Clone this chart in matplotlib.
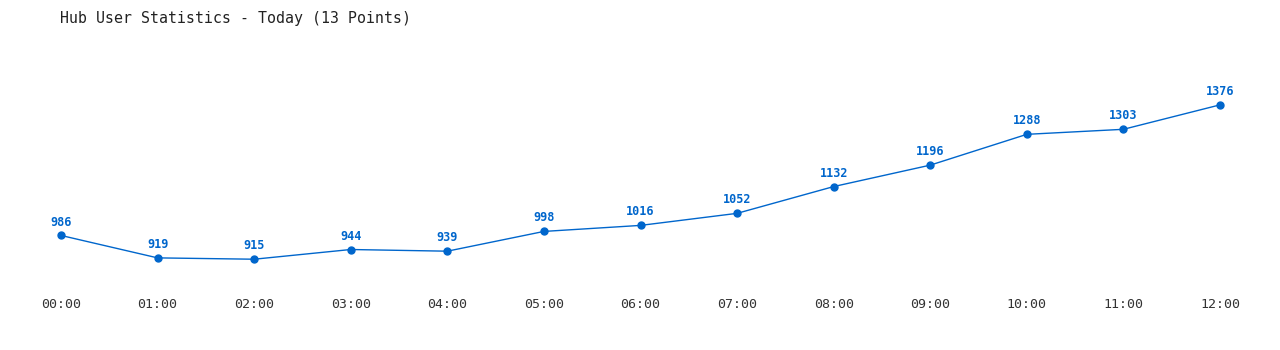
import matplotlib
matplotlib.use('Agg')
import matplotlib.pyplot as plt

# hourly values
hours = ['00:00', '01:00', '02:00', '03:00', '04:00', '05:00', '06:00',
         '07:00', '08:00', '09:00', '10:00', '11:00', '12:00']
users = [986, 919, 915, 944, 939, 998, 1016, 1052, 1132, 1196, 1288, 1303, 1376]

blue = '#0066cc'
W, H = 1280, 350
fig = plt.figure(figsize=(W / 100, H / 100), dpi=100)
# axes placed so that 00:00 sits at px 61 and 12:00 at px 1220
ax = fig.add_axes([61 / W, 1 - 285 / H, (1220 - 61) / W, (285 - 60) / H])
xs = list(range(len(hours)))
ax.plot(xs, users, color=blue, linewidth=1, marker='o', markersize=5, clip_on=False)
for x, v in zip(xs, users):
    ax.annotate(str(v), (x, v), xytext=(0, 5), textcoords='offset points',
                ha='center', va='bottom', color=blue, fontsize=8.5,
                fontweight='bold', family='DejaVu Sans Mono')

ax.set_xlim(0, 12)
ax.set_ylim(838, 1510)
ax.set_xticks(xs)
ax.set_xticklabels(hours, family='DejaVu Sans Mono', fontsize=9.5, color='#333333')
ax.tick_params(axis='x', length=0, pad=9)
ax.set_yticks([])
for s in ax.spines.values():
    s.set_visible(False)

fig.text(60 / W, 1 - 18 / H, 'Hub User Statistics - Today (13 Points)',
         family='DejaVu Sans Mono', fontsize=10.7, color='#222222', va='center', ha='left')

fig.savefig('out.png', dpi=100)
